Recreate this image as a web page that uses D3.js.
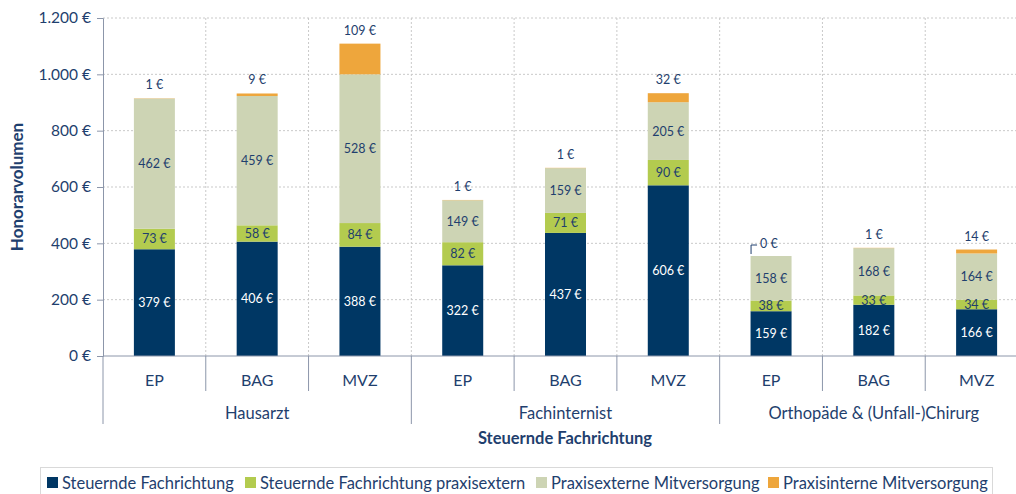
<!DOCTYPE html>
<html>
<head>
<meta charset="utf-8">
<script src="https://cdn.jsdelivr.net/npm/d3@7"></script>
<style>
  body { margin: 0; background: #fff; }
  text { font-family: Lato, "Open Sans", sans-serif; }
</style>
</head>
<body>
<div id="chart"></div>
<script>
const groups = ["Hausarzt", "Fachinternist", "Orthopäde & (Unfall-)Chirurg"];
const subs = ["EP", "BAG", "MVZ"];
const seriesNames = ["Steuernde Fachrichtung", "Steuernde Fachrichtung praxisextern", "Praxisexterne Mitversorgung", "Praxisinterne Mitversorgung"];
const steuernd = [379, 406, 388, 322, 437, 606, 159, 182, 166];
const praxisextern = [73, 58, 84, 82, 71, 90, 38, 33, 34];
const mitExtern = [462, 459, 528, 149, 159, 205, 158, 168, 164];
const mitIntern = [1, 9, 109, 1, 1, 32, 0, 1, 14];
const yTicks = [0, 200, 400, 600, 800, 1000, 1200];
const colors = ["#003764", "#b3cb4f", "#cdd4b4", "#eea63c"];
const textColor = "#1f3f6e";

const width = 1016, height = 494;
const svg = d3.select("#chart").append("svg").attr("width", width).attr("height", height);

const cats = [];
groups.forEach((g, gi) => subs.forEach((s, si) => cats.push({ key: g + "|" + s, group: g, sub: s })));

const rows = cats.map((c, i) => ({ key: c.key, values: [steuernd[i], praxisextern[i], mitExtern[i], mitIntern[i]] }));

const x = d3.scaleBand().domain(cats.map(c => c.key)).range([103, 1028]).paddingInner(0).paddingOuter(0);
const y = d3.scaleLinear().domain([0, 1200]).range([356, 18]);
const barW = 41;
const fmt = v => d3.format(",")(v).replace(/,/g, ".") + " €";

// grid
svg.append("g").selectAll("line").data(yTicks.slice(1)).enter().append("line")
  .attr("x1", 103).attr("x2", 1028).attr("y1", d => y(d)).attr("y2", d => y(d))
  .attr("stroke", "#c9c9c9").attr("stroke-dasharray", "2,2");
svg.append("g").selectAll("line").data(cats.slice(1)).enter().append("line")
  .attr("x1", d => x(d.key)).attr("x2", d => x(d.key)).attr("y1", 18).attr("y2", 356)
  .attr("stroke", "#c9c9c9").attr("stroke-dasharray", "2,2");

// stacked bars
const stack = d3.stack().keys([0, 1, 2, 3]).value((d, k) => d.values[k]);
const layers = stack(rows);
layers.forEach((layer, li) => {
  svg.append("g").selectAll("rect").data(layer).enter().append("rect")
    .attr("x", d => x(d.data.key) + x.bandwidth() / 2 - barW / 2)
    .attr("width", barW)
    .attr("y", d => y(d[1]))
    .attr("height", d => y(d[0]) - y(d[1]))
    .attr("fill", colors[li]);
});

// labels
const lblSize = 12.5;
layers.forEach((layer, li) => {
  layer.forEach((d, i) => {
    const cx = x(d.data.key) + x.bandwidth() / 2;
    const v = d.data.values[li];
    if (li < 3) {
      svg.append("text").attr("x", cx).attr("y", (y(d[0]) + y(d[1])) / 2 + 4.5)
        .attr("text-anchor", "middle").attr("font-size", lblSize)
        .attr("fill", li === 0 ? "#fff" : textColor).text(fmt(v));
    } else if (v === 0) {
      const top = y(d[1]);
      svg.append("path").attr("d", `M${cx - 20},${top - 2}V${top - 11}H${cx - 14}`)
        .attr("fill", "none").attr("stroke", textColor).attr("stroke-width", 1);
      svg.append("text").attr("x", cx - 11).attr("y", top - 8)
        .attr("font-size", lblSize).attr("fill", textColor).text(fmt(v));
    } else {
      svg.append("text").attr("x", cx).attr("y", y(d[1]) - 9)
        .attr("text-anchor", "middle").attr("font-size", lblSize)
        .attr("fill", textColor).text(fmt(v));
    }
  });
});

// y axis
const axisColor = "#8c96aa";
const yAxis = svg.append("g").attr("transform", "translate(103,0)")
  .call(d3.axisLeft(y).tickValues(yTicks).tickSize(6).tickFormat(fmt));
yAxis.select(".domain").attr("stroke", axisColor);
yAxis.selectAll(".tick line").attr("stroke", axisColor);
yAxis.selectAll(".tick text").attr("font-size", 15.5).attr("fill", textColor)
  .attr("font-family", "Lato, sans-serif").attr("x", -12);

svg.append("text").attr("transform", "translate(23,187) rotate(-90)")
  .attr("text-anchor", "middle").attr("font-size", 17).attr("font-weight", "bold")
  .attr("fill", textColor).text("Honorarvolumen");

// x axis
svg.append("line").attr("x1", 103).attr("x2", 1028).attr("y1", 356).attr("y2", 356).attr("stroke", axisColor);
const bounds = d3.range(cats.length + 1);
svg.append("g").selectAll("line").data(bounds).enter().append("line")
  .attr("x1", i => i < cats.length ? x(cats[i].key) : x.range()[1])
  .attr("x2", i => i < cats.length ? x(cats[i].key) : x.range()[1])
  .attr("y1", 356).attr("y2", i => i % 3 === 0 ? 424 : 391)
  .attr("stroke", axisColor);

svg.append("g").selectAll("text").data(cats).enter().append("text")
  .attr("x", d => x(d.key) + x.bandwidth() / 2).attr("y", 386)
  .attr("text-anchor", "middle").attr("font-size", 16).attr("fill", textColor)
  .text(d => d.sub);

svg.append("g").selectAll("text").data(groups).enter().append("text")
  .attr("x", (g, gi) => x(cats[gi * 3 + 1].key) + x.bandwidth() / 2).attr("y", 419)
  .attr("text-anchor", "middle").attr("font-size", 16.5).attr("fill", textColor)
  .text(g => g);

svg.append("text").attr("x", 565).attr("y", 444).attr("text-anchor", "middle")
  .attr("font-size", 16.5).attr("font-weight", "bold").attr("fill", textColor)
  .text("Steuernde Fachrichtung");

// legend
svg.append("rect").attr("x", 40.5).attr("y", 467.5).attr("width", 952).attr("height", 40)
  .attr("fill", "#fff").attr("stroke", "#d9d9d9");
const legendX = [47, 245, 536, 768];
const leg = svg.append("g").selectAll("g").data(seriesNames).enter().append("g")
  .attr("transform", (d, i) => `translate(${legendX[i]},477)`);
leg.append("rect").attr("width", 11).attr("height", 11).attr("fill", (d, i) => colors[i]);
leg.append("text").attr("x", 15).attr("y", 11.5).attr("font-size", 16.5).attr("fill", textColor).text(d => d);
</script>
</body>
</html>
